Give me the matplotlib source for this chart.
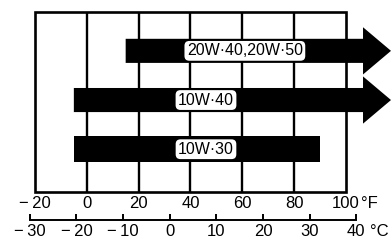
import matplotlib
matplotlib.use("Agg")
import matplotlib.pyplot as plt
from matplotlib.patches import FancyArrow, Rectangle

plt.rcParams['font.family'] = ['Liberation Sans Narrow', 'Liberation Sans', 'DejaVu Sans']

# oil grades and their temperature range (deg F); None = open ended (arrow)
grades = ["20W·40,20W·50", "10W·40", "10W·30"]
low_F = [15, -5, -5]
high_F = [None, None, 90]

f_ticks = [-20, 0, 20, 40, 60, 80, 100]
c_ticks = [-30, -20, -10, 0, 10, 20, 30, 40]

# layout
W, H = 391, 240
label_x = [61, 46, 46]
rows = [2, 1, 0]
xmin, xmax = -33.5, 117.4
bar_h = 0.49

fig = plt.figure(figsize=(W / 100, H / 100), dpi=100)
ax = fig.add_axes([0, 1 - 192 / H, 1, 180 / H])
ax.set_xlim(xmin, xmax)
ax.set_ylim(-0.87, 2.79)
for s in ax.spines.values():
    s.set_visible(False)
ax.set_yticks([])

y0, y1 = ax.get_ylim()
# frame + grid
ax.add_patch(Rectangle((f_ticks[0], y0), f_ticks[-1] - f_ticks[0], y1 - y0,
                       fill=False, lw=1.9, ec='black', clip_on=False, zorder=1))
for f in f_ticks[1:-1]:
    ax.plot([f, f], [y0, y1], color='black', lw=1.7, zorder=1)

for g, lo, hi, r, lx in zip(grades, low_F, high_F, rows, label_x):
    if hi is None:
        ax.add_patch(FancyArrow(lo, r, xmax - lo, 0, width=bar_h, head_width=0.96,
                                head_length=10.8, length_includes_head=True,
                                fc='black', ec='black', lw=0, clip_on=False, zorder=2))
    else:
        ax.barh(r, hi - lo, left=lo, height=bar_h + 0.04, color='black', zorder=2)
    ax.text(lx, r, g, ha='center', va='center', fontsize=11.5, zorder=3,
            bbox=dict(boxstyle='round,pad=0.15,rounding_size=0.3', fc='white', ec='none'))


def fmt(t):
    return str(t).replace('-', '\u2212\u2009')


ax.set_xticks(f_ticks)
ax.set_xticklabels([fmt(t) for t in f_ticks], fontsize=12)
ax.tick_params(axis='x', length=0, pad=3)

# Celsius scale below
sec = ax.secondary_xaxis(-28 / 180, functions=(lambda f: (f - 32) * 5 / 9,
                                               lambda c: c * 9 / 5 + 32))
sec.set_xticks(c_ticks)
sec.set_xticklabels([fmt(t) for t in c_ticks], fontsize=12)
sec.tick_params(axis='x', direction='in', length=4, width=1.4, pad=3)
sec.spines['bottom'].set_bounds(c_ticks[0], c_ticks[-1])
sec.spines['bottom'].set_linewidth(1.4)

# unit suffixes right after the last tick labels
fig.canvas.draw()
for lab, unit, gap in ((ax.get_xticklabels()[-1], '°F', 1), (sec.get_xticklabels()[-1], '°C', 4)):
    bb = lab.get_window_extent()
    fig.text((bb.x1 + gap) / W, bb.y0 / H + 0.012, unit, fontsize=12,
             ha='left', va='baseline')

fig.savefig("out.png", dpi=100)
